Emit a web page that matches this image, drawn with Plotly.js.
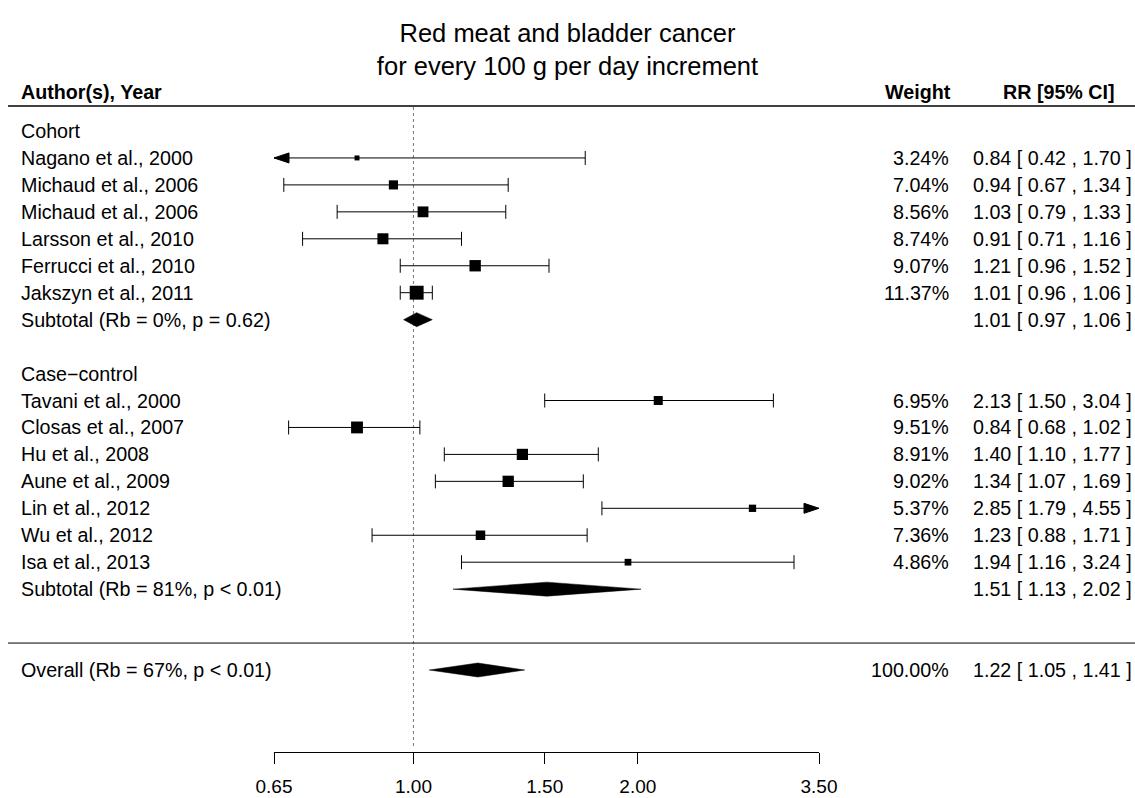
<!DOCTYPE html>
<html>
<head>
<meta charset="utf-8">
<script src="https://cdn.plot.ly/plotly-3.0.1.min.js"></script>
<style>html,body{margin:0;padding:0;background:#fff;}#chart{width:1135px;height:798px;}</style>
</head>
<body>
<div id="chart"></div>
<script>
// ---- data ----
const cohortStudies = ["Nagano et al., 2000","Michaud et al., 2006","Michaud et al., 2006","Larsson et al., 2010","Ferrucci et al., 2010","Jakszyn et al., 2011"];
const cohortRR = [0.84, 0.94, 1.03, 0.91, 1.21, 1.01];
const cohortLo = [0.42, 0.67, 0.79, 0.71, 0.96, 0.96];
const cohortHi = [1.70, 1.34, 1.33, 1.16, 1.52, 1.06];
const cohortWeight = [3.24, 7.04, 8.56, 8.74, 9.07, 11.37];

const caseStudies = ["Tavani et al., 2000","Closas et al., 2007","Hu et al., 2008","Aune et al., 2009","Lin et al., 2012","Wu et al., 2012","Isa et al., 2013"];
const caseRR = [2.13, 0.84, 1.40, 1.34, 2.85, 1.23, 1.94];
const caseLo = [1.50, 0.68, 1.10, 1.07, 1.79, 0.88, 1.16];
const caseHi = [3.04, 1.02, 1.77, 1.69, 4.55, 1.71, 3.24];
const caseWeight = [6.95, 9.51, 8.91, 9.02, 5.37, 7.36, 4.86];

const groupNames = ["Cohort", "Case\u2212control"];
const subtotalLabels = ["Subtotal (Rb = 0%, p = 0.62)", "Subtotal (Rb = 81%, p < 0.01)"];
const subtotalRR = [1.01, 1.51];
const subtotalLo = [0.97, 1.13];
const subtotalHi = [1.06, 2.02];

const overallLabel = "Overall (Rb = 67%, p < 0.01)";
const overallRR = 1.22, overallLo = 1.05, overallHi = 1.41, overallWeight = 100;

const axisTicks = [0.65, 1.00, 1.50, 2.00, 3.50];
const axisTickText = ["0.65", "1.00", "1.50", "2.00", "3.50"];
const xMin = 0.65, xMax = 3.50;

const titleText = "Red meat and bladder cancer<br>for every 100 g per day increment";

// ---- layout helpers ----
const W = 1135, H = 798;
const FONT = "Liberation Sans, Arial, Helvetica, sans-serif";
const fs = 19.7;
const titleFs = 25.5;
const rowTop = 131, rowStep = 26.95, plotH = 752;
const yTopK = (0 - rowTop) / rowStep, yBotK = (plotH - rowTop) / rowStep;
const pxToK = p => (p - rowTop) / rowStep;
const domL = 274 / W, domR = 819 / W;
const pxPerLog = (819 - 274) / (Math.log10(xMax) - Math.log10(xMin));
const fmt = v => v.toFixed(2);

// build rows
const rows = [];
let k = 0;
function addGroup(name, studies, rr, lo, hi, w, subIdx) {
  rows.push({type: "header", label: name, k: k++});
  for (let i = 0; i < studies.length; i++) {
    rows.push({type: "study", label: studies[i], rr: rr[i], lo: lo[i], hi: hi[i], w: w[i], k: k++});
  }
  rows.push({type: "summary", label: subtotalLabels[subIdx], rr: subtotalRR[subIdx], lo: subtotalLo[subIdx], hi: subtotalHi[subIdx], k: k++});
  k++;
}
addGroup(groupNames[0], cohortStudies, cohortRR, cohortLo, cohortHi, cohortWeight, 0);
addGroup(groupNames[1], caseStudies, caseRR, caseLo, caseHi, caseWeight, 1);
const overallK = k + 1;
rows.push({type: "summary", label: overallLabel, rr: overallRR, lo: overallLo, hi: overallHi, w: overallWeight, k: overallK});

const traces = [];
// CI lines
const lx = [], ly = [];
const capX = [], capY = [];
const arrows = [];
const arrowLen = Math.pow(10, 15 / pxPerLog);
const arrowHalf = 5 / rowStep;
rows.filter(r => r.type === "study").forEach(r => {
  const a = Math.max(r.lo, xMin), b = Math.min(r.hi, xMax);
  lx.push(a, b, null); ly.push(r.k, r.k, null);
  if (r.lo >= xMin) { capX.push(r.lo); capY.push(r.k); } else { arrows.push({tip: xMin, base: xMin * arrowLen, k: r.k}); }
  if (r.hi <= xMax) { capX.push(r.hi); capY.push(r.k); } else { arrows.push({tip: xMax, base: xMax / arrowLen, k: r.k}); }
});
traces.push({x: lx, y: ly, type: "scatter", mode: "lines", line: {color: "#000", width: 1}, hoverinfo: "skip", cliponaxis: false});
traces.push({x: capX, y: capY, type: "scatter", mode: "markers", marker: {symbol: "line-ns-open", size: 10, color: "#000", opacity: 1, line: {color: "#000", width: 1}}, hoverinfo: "skip", cliponaxis: false});
arrows.forEach(a => {
  traces.push({x: [a.tip, a.base, a.base, a.tip], y: [a.k, a.k - arrowHalf, a.k + arrowHalf, a.k], type: "scatter", mode: "lines", fill: "toself", fillcolor: "#000", line: {color: "#000", width: 1}, hoverinfo: "skip", cliponaxis: false});
});
// squares
const studyRows = rows.filter(r => r.type === "study");
traces.push({x: studyRows.map(r => r.rr), y: studyRows.map(r => r.k), type: "scatter", mode: "markers",
  marker: {symbol: "square", color: "#000", opacity: 1, size: studyRows.map(r => 1.4 + 1.1 * r.w), line: {width: 0}}, hoverinfo: "skip", cliponaxis: false});
// diamonds
const dh = 7 / rowStep;
rows.filter(r => r.type === "summary").forEach(r => {
  traces.push({x: [r.lo, r.rr, r.hi, r.rr, r.lo], y: [r.k, r.k - dh, r.k, r.k + dh, r.k], type: "scatter", mode: "lines", fill: "toself", fillcolor: "#000", line: {color: "#000", width: 0.5}, hoverinfo: "skip", cliponaxis: false});
});

// annotations
const ann = [];
const txt = (text, xPx, kk, anchor, bold) => ann.push({text: bold ? "<b>" + text + "</b>" : text, xref: "paper", yref: "y", x: xPx / W, y: kk, xanchor: anchor, yanchor: "middle", showarrow: false, font: {family: FONT, size: fs, color: "#000"}});
const leftX = 19, weightX = 951, rrX = 1134;
txt("Author(s), Year", leftX, pxToK(92), "left", true);
txt("Weight", 953, pxToK(92), "right", true);
txt("RR [95% CI]", 1117, pxToK(92), "right", true);
rows.forEach(r => {
  txt(r.label, leftX, r.k, "left", false);
  if (r.w !== undefined) txt(r.w.toFixed(2) + "%", weightX, r.k, "right", false);
  if (r.rr !== undefined) txt(fmt(r.rr) + " [ " + fmt(r.lo) + " , " + fmt(r.hi) + " ]", rrX, r.k, "right", false);
});

const shapes = [
  {type: "line", xref: "paper", yref: "y", x0: 8 / W, x1: 1, y0: pxToK(106), y1: pxToK(106), line: {color: "#000", width: 1.3}},
  {type: "line", xref: "paper", yref: "y", x0: 8 / W, x1: 1, y0: overallK - 1, y1: overallK - 1, line: {color: "#000", width: 1}},
  {type: "line", xref: "x", yref: "y", x0: 1, x1: 1, y0: pxToK(107), y1: pxToK(746), line: {color: "#777", width: 1, dash: "dot"}, layer: "below"}
];

const layout = {
  width: W, height: H,
  margin: {l: 0, r: 0, t: 0, b: H - plotH, pad: 0},
  paper_bgcolor: "#fff", plot_bgcolor: "#fff",
  showlegend: false,
  title: {text: titleText, x: 0.5, xanchor: "center", y: 1 - 42 / H, yanchor: "middle", yref: "container", font: {family: FONT, size: titleFs, color: "#000"}},
  xaxis: {type: "log", domain: [domL, domR], range: [Math.log10(xMin), Math.log10(xMax)],
    tickvals: axisTicks, ticktext: axisTickText, ticks: "outside", ticklen: 11, tickwidth: 1, tickcolor: "#000",
    showline: true, linecolor: "#000", linewidth: 1, showgrid: false, zeroline: false,
    ticklabelstandoff: 6, tickfont: {family: FONT, size: 19, color: "#000"}, fixedrange: true},
  yaxis: {range: [yBotK, yTopK], visible: false, showgrid: false, zeroline: false, fixedrange: true},
  shapes: shapes,
  annotations: ann
};
Plotly.newPlot("chart", traces, layout, {displayModeBar: false, staticPlot: true});
</script>
</body>
</html>
